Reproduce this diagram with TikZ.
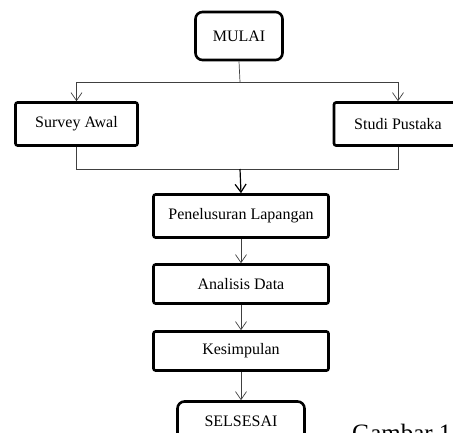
\documentclass[tikz,border=0pt]{standalone}
\usepackage{fontspec}
\setmainfont{Liberation Serif}
\usetikzlibrary{arrows.meta}

\tikzset{
  proses/.style={draw, line width=2.6pt, rounded corners=2pt, inner sep=0pt,
    minimum width=175pt, minimum height=41pt, font=\fontsize{16}{18}\selectfont},
  terminal/.style={proses, rounded corners=7pt},
  alur/.style={-{Straight Barb[length=8pt,width=11pt]}, line width=0.7pt, draw=black!75},
  garis/.style={line width=0.7pt, draw=black!75}
}

\begin{document}
\begin{tikzpicture}[x=1pt,y=-1pt]
\useasboundingbox (0,0) rectangle (453,432);
\clip (0,0) rectangle (453,432);

\coordinate (cabang) at (240,82);
\coordinate (gabung) at (240,169);

\node[terminal, minimum width=87pt, minimum height=48pt] (mulai) at (239,36) {MULAI};
\node[proses, minimum width=122pt, minimum height=43pt] (survey) at (76.5,124) {Survey Awal};
\node[proses, minimum width=128pt, minimum height=43pt] (studi) at (398,124) {Studi Pustaka};
\node[proses, minimum height=43pt] (telusur) at (241,216) {Penelusuran Lapangan};
\node[proses, minimum height=39pt] (analisis) at (241,284) {Analisis Data};
\node[proses, minimum height=39pt] (simpulan) at (241,351) {Kesimpulan};
\node[terminal, minimum width=127pt, minimum height=39pt] (selesai) at (241,421) {SELSESAI};
\node[anchor=base west, inner sep=0pt, font=\fontsize{25}{27}\selectfont] (judul) at (352,441) {Gambar 1};

\draw[garis] (mulai.south) -- (cabang);
\draw[alur] (cabang) -| (survey.north);
\draw[alur] (cabang) -| (studi.north);
\draw[garis] (survey.south) |- (gabung);
\draw[garis] (studi.south) |- (gabung);
\draw[alur, line width=1.2pt, draw=black] (gabung) -- (telusur.north);
\draw[alur] (telusur) -- (analisis);
\draw[alur] (analisis) -- (simpulan);
\draw[alur] (simpulan) -- (selesai);

\end{tikzpicture}
\end{document}
